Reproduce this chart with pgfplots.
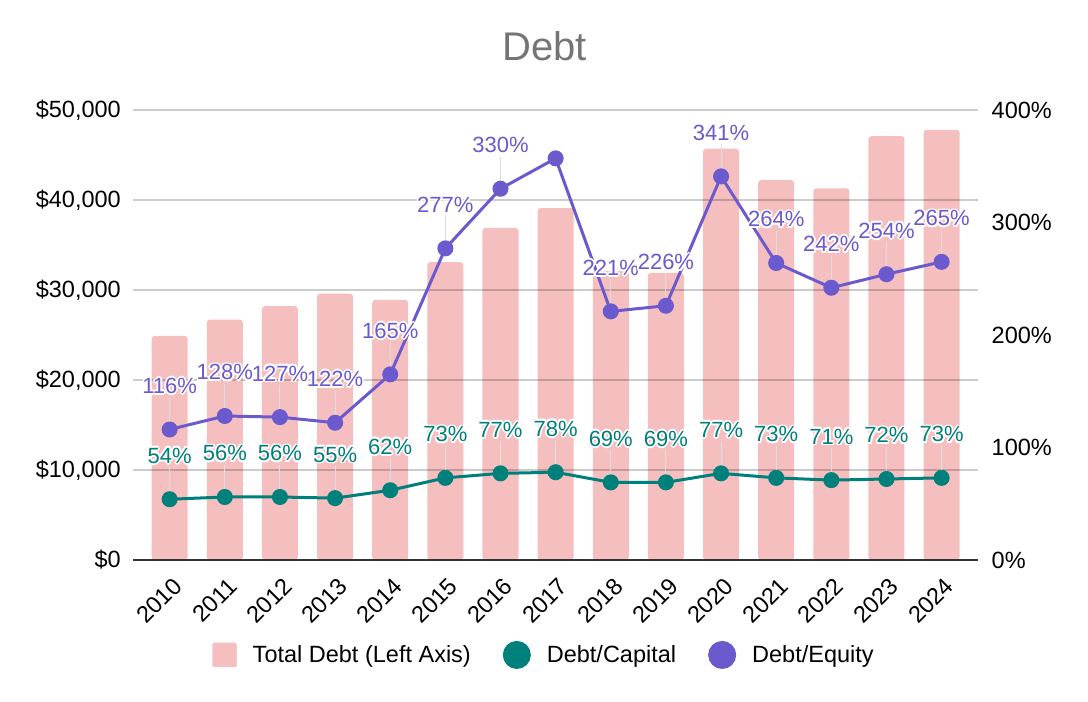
\documentclass[border=0pt]{standalone}
\usepackage{fontspec}
\setmainfont{Liberation Sans}
\usepackage{pgfplots}
\usepackage{pgfplotstable}
\pgfplotsset{compat=1.18}
\definecolor{barpink}{HTML}{F6BFBF}
\definecolor{dteal}{HTML}{00807B}
\definecolor{dpurple}{HTML}{6A5ACD}
\definecolor{titlegray}{HTML}{757575}
\definecolor{axisdark}{HTML}{333333}
\newcommand\tickfont{\fontsize{23.5}{28}\selectfont}
\newcommand\labfont{\fontsize{22}{26}\selectfont}
\newcommand\haloone[3]{\makebox[0pt][l]{\hspace*{#1}\raisebox{#2}{\color{white}#3}}}
\newcommand\halo[1]{%
  \haloone{-1.8pt}{0pt}{#1}\haloone{1.8pt}{0pt}{#1}%
  \haloone{0pt}{1.8pt}{#1}\haloone{0pt}{-1.8pt}{#1}%
  \haloone{-1.3pt}{1.3pt}{#1}\haloone{1.3pt}{1.3pt}{#1}%
  \haloone{-1.3pt}{-1.3pt}{#1}\haloone{1.3pt}{-1.3pt}{#1}%
  #1}

\pgfplotstableread{
x debt dc de
0 24900 54 116
1 26700 56 128
2 28200 56 127
3 29600 55 122
4 28900 62 165
5 33100 73 277
6 36900 77 330
7 39100 78 357
8 32100 69 221
9 31900 69 226
10 45700 77 341
11 42200 73 264
12 41300 71 242
13 47100 72 254
14 47800 73 265
}\data

\pgfplotstableread{
x de
0 116
1 128
2 127
3 122
4 165
5 277
6 330
8 221
9 226
10 341
11 264
12 242
13 254
14 265
}\delab

\begin{document}
\begin{tikzpicture}
\path[use as bounding box] (0,0) rectangle (1088pt,702pt);
\begin{axis}[
  at={(133pt,142pt)}, anchor=south west,
  width=845pt, height=450pt, scale only axis,
  xmin=-0.665, xmax=14.66, ymin=0, ymax=50000,
  axis x line=bottom, axis y line=left,
  axis line style={-},
  x axis line style={draw=axisdark, line width=2pt},
  y axis line style={draw=none},
  major tick length=0pt,
  scaled y ticks=false,
  xtick={0,1,2,3,4,5,6,7,8,9,10,11,12,13,14},
  xticklabels={2010,2011,2012,2013,2014,2015,2016,2017,2018,2019,2020,2021,2022,2023,2024},
  xticklabel style={font=\tickfont, inner sep=0pt, xshift=2pt, yshift=-16pt, rotate=45, anchor=north east},
  ytick={0,10000,20000,30000,40000,50000},
  yticklabels={{\$0},{\$10,000},{\$20,000},{\$30,000},{\$40,000},{\$50,000}},
  yticklabel style={font=\tickfont, inner sep=0pt, xshift=-12pt, anchor=east},
  ymajorgrids,
  grid style={black, opacity=0.2, line width=1.3pt},
  axis on top,
  ybar, bar width=0.653,
  title={Debt},
  title style={at={(0.487,1)}, anchor=base, yshift=43pt, font=\fontsize{40}{48}\selectfont, text=titlegray},
]
\addplot[fill=barpink, draw=none, rounded corners=3pt] table[x=x,y=debt]{\data};
\end{axis}

\begin{axis}[
  at={(133pt,142pt)}, anchor=south west,
  width=845pt, height=450pt, scale only axis,
  xmin=-0.665, xmax=14.66, ymin=0, ymax=400,
  axis x line=none, axis y line*=right,
  axis line style={-},
  y axis line style={draw=none},
  major tick length=0pt,
  xtick=\empty,
  ytick={0,100,200,300,400},
  yticklabels={0\%,100\%,200\%,300\%,400\%},
  yticklabel style={font=\tickfont, inner sep=0pt, xshift=13.5pt, anchor=west},
  clip=false,
  legend style={at={(0.4852,-0.211)}, anchor=center, draw=none, fill=none,
    font=\tickfont, legend columns=-1, nodes={inner sep=0pt},
    /tikz/every odd column/.append style={column sep=16pt},
    /tikz/every even column/.append style={column sep=32pt}},
  legend cell align=left,
]
\addlegendimage{legend image code/.code={\fill[barpink, rounded corners=2pt] (0pt,-12pt) rectangle (24pt,12pt);}}
\addlegendentry{Total Debt (Left Axis)}

% leader lines
\addplot[forget plot, draw=none, mark=none,
  error bars/.cd, y dir=plus, y fixed=28.5, error mark=none,
  error bar style={draw=black!13, solid, line width=1pt}] table[x=x,y=dc]{\data};
\addplot[forget plot, draw=none, mark=none,
  error bars/.cd, y dir=plus, y fixed=28.5, error mark=none,
  error bar style={draw=black!13, solid, line width=1pt}] table[x=x,y=de]{\delab};

\addplot[dteal, line width=3pt, mark=*, mark size=6.5pt,
  mark options={solid, fill=dteal, draw=none},
  legend image code/.code={\fill[dteal] (12.5pt,0pt) circle (12.5pt);}]
  table[x=x,y=dc]{\data};
\addlegendentry{Debt/Capital}
\addplot[dpurple, line width=3pt, mark=*, mark size=6.5pt,
  mark options={solid, fill=dpurple, draw=none},
  legend image code/.code={\fill[dpurple] (12.5pt,0pt) circle (12.5pt);}]
  table[x=x,y=de]{\data};
\addlegendentry{Debt/Equity}

% labels
\addplot[forget plot, only marks, mark=none, point meta=explicit symbolic,
  nodes near coords={\halo{\pgfplotspointmeta\%}},
  nodes near coords style={font=\labfont, text=dteal, anchor=base, yshift=36pt, inner sep=0pt}]
  table[x=x,y=dc,meta=dc]{\data};
\addplot[forget plot, only marks, mark=none, point meta=explicit symbolic,
  nodes near coords={\halo{\pgfplotspointmeta\%}},
  nodes near coords style={font=\labfont, text=dpurple, anchor=base, yshift=36pt, inner sep=0pt}]
  table[x=x,y=de,meta=de]{\delab};
\end{axis}
\end{tikzpicture}
\end{document}
